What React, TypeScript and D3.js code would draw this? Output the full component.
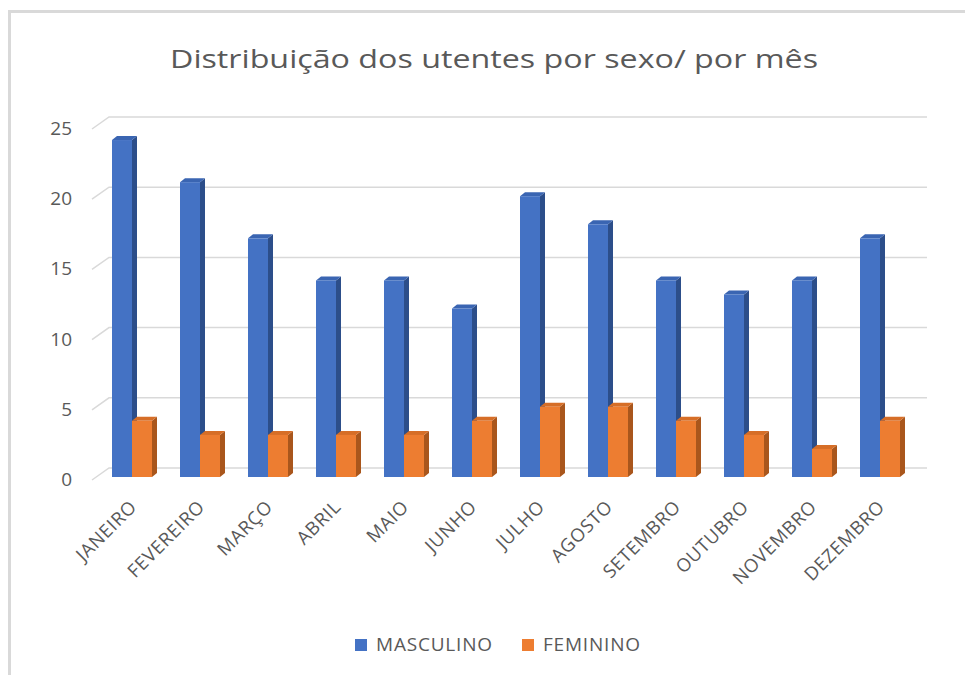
import React from "react";
import * as d3 from "d3";

const months = ["JANEIRO","FEVEREIRO","MARÇO","ABRIL","MAIO","JUNHO","JULHO","AGOSTO","SETEMBRO","OUTUBRO","NOVEMBRO","DEZEMBRO"];
const masculino = [24,21,17,14,14,12,20,18,14,13,14,17];
const feminino = [4,3,3,3,3,4,5,5,4,3,2,4];
const seriesNames = ["MASCULINO","FEMININO"];
const yTicks = [0,5,10,15,20,25];
const title = "Distribuição dos utentes por sexo/ por mês";

const W = 965, H = 675;
const colors = {
  MASCULINO: { front: "#4472C4", side: "#2C4E8A", top: "#3A65B2" },
  FEMININO: { front: "#ED7D31", side: "#A9561C", top: "#D66E27" },
};
const FONT = "'Open Sans', 'Noto Sans', sans-serif";
const TXT = "#595959";

export default function App() {
  const x = d3.scaleBand<string>().domain(months).range([98, 914]).paddingInner(28 / 68).paddingOuter(14 / 68);
  const xs = d3.scaleBand<string>().domain(seriesNames).range([0, x.bandwidth()]);
  const yBack = d3.scaleLinear().domain([0, 25]).range([468, 117]);
  const yBar = d3.scaleLinear().domain([0, 25]).range([477, 126]);
  const frontDx = -17, frontDy = 12;
  const dX = 5, dY = -4;
  const data = [masculino, feminino];

  const bars: React.ReactNode[] = [];
  months.forEach((m, i) => {
    seriesNames.forEach((s, si) => {
      const v = data[si][i];
      const x0 = (x(m) as number) + (xs(s) as number);
      const w = xs.bandwidth();
      const y0 = yBar(v);
      const yb = yBar(0);
      const c = (colors as any)[s];
      bars.push(
        <g key={m + s}>
          <polygon points={`${x0 + w},${y0} ${x0 + w + dX},${y0 + dY} ${x0 + w + dX},${yb + dY} ${x0 + w},${yb}`} fill={c.side} />
          <polygon points={`${x0},${y0} ${x0 + dX},${y0 + dY} ${x0 + w + dX},${y0 + dY} ${x0 + w},${y0}`} fill={c.top} />
          <rect x={x0} y={y0} width={w} height={yb - y0} fill={c.front} />
        </g>
      );
    });
  });

  return (
    <svg width={W} height={H} style={{ position: "absolute", left: 0, top: 0 }}>
      <rect x={0} y={0} width={W} height={H} fill="#fff" />
      <line x1={9.5} y1={11} x2={9.5} y2={H} stroke="#d9d9d9" strokeWidth={3} />
      <line x1={8} y1={11.5} x2={W} y2={11.5} stroke="#d9d9d9" strokeWidth={3} />
      <text x={494} y={68} textAnchor="middle" fontFamily={FONT} fontSize={26} fill={TXT} textLength={648} lengthAdjust="spacingAndGlyphs">{title}</text>
      {yTicks.map((t) => (
        <g key={t}>
          <polyline points={`${109 + frontDx},${yBack(t) + frontDy} 109,${yBack(t)} 927,${yBack(t)}`} fill="none" stroke="#d9d9d9" strokeWidth={1.5} />
          <text x={72} y={yBack(t) + frontDy + 1} textAnchor="end" dominantBaseline="middle" fontFamily={FONT} fontSize={19} fill={TXT}>{t}</text>
        </g>
      ))}
      {bars}
      {months.map((m) => {
        const cx = (x(m) as number) + x.bandwidth() / 2 + 6;
        const cy = 508;
        return (
          <text key={m} transform={`translate(${cx},${cy}) rotate(-45)`} textAnchor="end" fontFamily={FONT} fontSize={18.5} letterSpacing={0.7} fill={TXT}>{m}</text>
        );
      })}
      {seriesNames.map((s, i) => {
        const lx = i === 0 ? 355 : 522;
        return (
          <g key={s}>
            <rect x={lx} y={639} width={12} height={12} fill={(colors as any)[s].front} />
            <text x={lx + 21} y={646} dominantBaseline="middle" fontFamily={FONT} fontSize={19} letterSpacing={0.8} fill={TXT}>{s}</text>
          </g>
        );
      })}
    </svg>
  );
}
